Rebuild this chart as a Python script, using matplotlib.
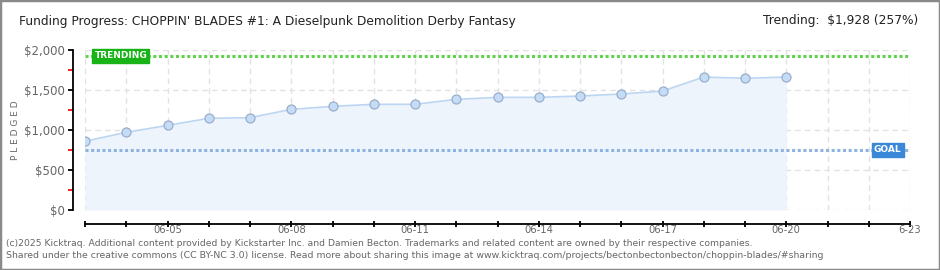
import matplotlib
matplotlib.use("Agg")
import matplotlib.pyplot as plt
from matplotlib.patches import Rectangle
from matplotlib import font_manager
import pandas as pd

# ---- data ----
dates = ["2025-06-03", "2025-06-04", "2025-06-05", "2025-06-06", "2025-06-07", "2025-06-08",
         "2025-06-09", "2025-06-10", "2025-06-11", "2025-06-12", "2025-06-13", "2025-06-14",
         "2025-06-15", "2025-06-16", "2025-06-17", "2025-06-18", "2025-06-19", "2025-06-20"]
pledged = [859, 971, 1058, 1146, 1154, 1258, 1296, 1321, 1321, 1383, 1408, 1408,
           1425, 1450, 1487, 1662, 1646, 1662]
goal = 750
trending = 1928
x_start, x_end = "2025-06-03", "2025-06-23"
y_ticks = [0, 500, 1000, 1500, 2000]
y_tick_labels = ["$0", "$500", "$1,000", "$1,500", "$2,000"]
y_minor = [250, 750, 1250, 1750]
title = "Funding Progress: CHOPPIN' BLADES #1: A Dieselpunk Demolition Derby Fantasy"
trend_text = "Trending:  $1,928 (257%)"
footer1 = ("(c)2025 Kicktraq. Additional content provided by Kickstarter Inc. and Damien Becton. "
           "Trademarks and related content are owned by their respective companies.")
footer2 = ("Shared under the creative commons (CC BY-NC 3.0) license. Read more about sharing this image at "
           "www.kicktraq.com/projects/bectonbectonbecton/choppin-blades/#sharing")

x = pd.to_datetime(dates)
xs, xe = pd.Timestamp(x_start), pd.Timestamp(x_end)
all_days = pd.date_range(xs, xe, freq="D")

plt.rcParams['font.family'] = ["DejaVu Sans"]
names = {f.name for f in font_manager.fontManager.ttflist}
narrow = "Liberation Sans Narrow" if "Liberation Sans Narrow" in names else "DejaVu Sans"
title_size = 11.1 if narrow != "DejaVu Sans" else 8.8

fig = plt.figure(figsize=(9.4, 2.7), dpi=100)
fig.patches.append(Rectangle((0, 0), 1, 1, transform=fig.transFigure, fill=False,
                             edgecolor="#8a8a8a", linewidth=2.5))
ax = fig.add_axes([85 / 940, 60 / 270, 825 / 940, 160 / 270])
ax.set_xlim(xs, xe)
ax.set_ylim(0, 2000)

# grid
for d in all_days:
    ax.axvline(d, color="#e2e2e2", lw=1, ls=(0, (4, 3)), zorder=0)
for v in y_ticks:
    ax.axhline(v, color="#e2e2e2", lw=1, ls=(0, (4, 3)), zorder=0)

# area + line + markers
ax.fill_between(x, pledged, 0, color="#edf4fc", zorder=1, lw=0)
ax.plot(x, pledged, color="#bcd6f2", lw=1.2, zorder=3)
ax.plot(x, pledged, ls="none", marker="o", ms=6.5, mfc="#c4dcf6", mec="#9aaecb", mew=0.9, zorder=4)

# goal & trending lines
ax.axhline(goal, color="#8fb3df", lw=2.2, ls=(0, (1, 0.85)), zorder=2)
ax.axhline(trending, color="#62d24e", lw=2.2, ls=(0, (1, 0.85)), zorder=2)

ax.text(pd.Timestamp("2025-06-03 05:30"), trending, "TRENDING", color="white", fontsize=6.5,
        fontweight="bold", va="center", ha="left", zorder=6,
        bbox=dict(boxstyle="square,pad=0.25", fc="#17b317", ec="#17b317"))
ax.text(pd.Timestamp("2025-06-22 03:00"), goal, "GOAL", color="white", fontsize=6.5,
        fontweight="bold", va="center", ha="left", zorder=6,
        bbox=dict(boxstyle="square,pad=0.25", fc="#3c88d8", ec="#3c88d8"))

# spines
for s in ["top", "right"]:
    ax.spines[s].set_visible(False)
ax.spines["left"].set_position(("outward", 9))
ax.spines["bottom"].set_position(("outward", 10))
ax.spines["left"].set_linewidth(1.3)
ax.spines["bottom"].set_linewidth(1.3)

ax.set_yticks(y_ticks)
ax.set_yticklabels(y_tick_labels)
ax.set_yticks(y_minor, minor=True)
ax.tick_params(axis="y", which="major", length=3.5, width=1.3, color="black",
               labelsize=8.5, labelcolor="#666666", pad=2)
ax.tick_params(axis="y", which="minor", length=3.5, width=1.3, color="#ee1111")

ax.set_xticks(all_days)
xlabels = [d.strftime("%m-%d") if (i % 3 == 2) else "" for i, d in enumerate(all_days)]
xlabels[-1] = "6-23"
ax.set_xticklabels(xlabels)
ax.tick_params(axis="x", which="major", length=5, width=1.3, direction="inout",
               labelsize=7.2, labelcolor="#666666", pad=-1.5)

ax.set_ylabel("P L E D G E D", fontsize=6.5, color="#666666")
ax.yaxis.set_label_coords((20 - 85) / 825, 0.5)

fig.text(19 / 940, 1 - 22 / 270, title, fontsize=title_size, color="#222222", va="center", ha="left",
         family=[narrow, "DejaVu Sans"])
fig.text(918 / 940, 1 - 21 / 270, trend_text, fontsize=title_size, color="#222222", va="center", ha="right",
         family=[narrow, "DejaVu Sans"])
fig.text(6 / 940, 1 - 243 / 270, footer1, fontsize=6.7, color="#666666", va="center", ha="left")
fig.text(6 / 940, 1 - 256 / 270, footer2, fontsize=6.75, color="#666666", va="center", ha="left")

fig.savefig("out.png", dpi=100)
